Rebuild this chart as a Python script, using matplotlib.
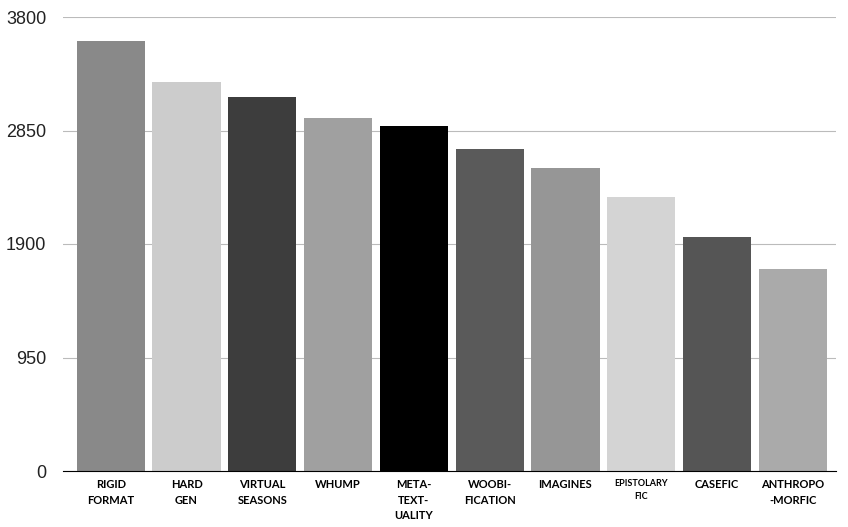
import matplotlib
matplotlib.use("Agg")
import matplotlib.pyplot as plt

categories = ["RIGID\nFORMAT", "HARD\nGEN", "VIRTUAL\nSEASONS", "WHUMP", "META-\nTEXT-\nUALITY",
              "WOOBI-\nFICATION", "IMAGINES", "EPISTOLARY\nFIC", "CASEFIC", "ANTHROPO\n-MORFIC"]
values = [3600, 3255, 3130, 2955, 2887, 2695, 2536, 2293, 1958, 1690]
colors = ["#898989", "#cccccc", "#3d3d3d", "#a0a0a0", "#000000",
          "#5a5a5a", "#969696", "#d4d4d4", "#555555", "#aaaaaa"]
yticks = [0, 950, 1900, 2850, 3800]

fig = plt.figure(figsize=(8.48, 5.27), dpi=100)
ax = fig.add_axes([63/848, 56/527, 773/848, 454/527])
x = range(len(values))
ax.bar(x, values, width=0.9, color=colors, zorder=3)
ax.set_xlim(-0.63, 9.57)
ax.set_ylim(0, 3800)
ax.set_yticks(yticks)
ax.set_yticklabels([str(v) for v in yticks], fontsize=13, color="#222222",
                   family=["Liberation Sans", "DejaVu Sans"])
ax.grid(axis="y", color="#bbbbbb", linewidth=0.8, zorder=0)
ax.set_xticks(list(x))
ax.set_xticklabels(categories, fontsize=8, fontweight="bold", family=["Lato", "DejaVu Sans"],
                   va="top", linespacing=1.5)
for i, lbl in enumerate(ax.get_xticklabels()):
    if i == 7:
        lbl.set_fontsize(6.5)
ax.tick_params(axis="both", length=0)
ax.tick_params(axis="y", pad=12)
ax.tick_params(axis="x", pad=6)
for s in ["top", "right", "left"]:
    ax.spines[s].set_visible(False)
ax.spines["bottom"].set_color("black")
ax.spines["bottom"].set_zorder(4)
fig.savefig("out.png", dpi=100)
